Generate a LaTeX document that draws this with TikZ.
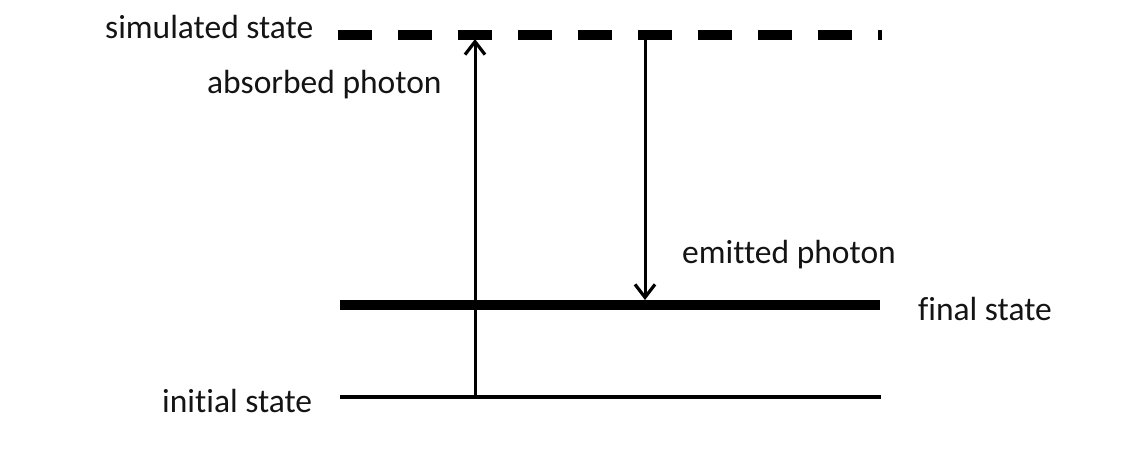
\documentclass[tikz,border=0pt]{standalone}
\usepackage{fontspec}
\setmainfont{Carlito}[Ligatures={NoCommon}]
\usetikzlibrary{arrows.meta}
\tikzset{
  lbl/.style={anchor=base west, inner sep=0pt, font=\fontsize{33.5}{38}\selectfont, text=black!92},
  virtual/.style={line width=9.5pt, dash pattern=on 34pt off 26pt},
  finallvl/.style={line width=10.5pt},
  initlvl/.style={line width=3.5pt},
  photon/.style={line width=3pt, -{Straight Barb[length=13pt,width=20pt,line width=3.2pt]}}
}
\begin{document}
\begin{tikzpicture}[x=1pt,y=-1pt]
\useasboundingbox (0,0) rectangle (1138,448);
\fill[white] (0,0) rectangle (1138,448);
% levels
\coordinate (simL) at (338,35);
\coordinate (simR) at (882,35);
\coordinate (finL) at (340,305);
\coordinate (finR) at (880,305);
\coordinate (iniL) at (340,397);
\coordinate (iniR) at (881,397);
\draw[virtual] (simL) -- (simR);
\draw[finallvl] (finL) -- (finR);
\draw[initlvl] (iniL) -- (iniR);
% photon arrows
\coordinate (absB) at (475,397);
\coordinate (absT) at (475,39);
\coordinate (emiT) at (645,35);
\coordinate (emiB) at (645,300);
\draw[photon] (absB) -- (absT);
\draw[photon] (emiT) -- (emiB);
% labels
\node[lbl] (lsim) at (105,38) {simulated state};
\node[lbl] (labs) at (207,93) {absorbed photon};
\node[lbl] (lemi) at (682,263) {emitted photon};
\node[lbl] (lfin) at (918,320) {final state};
\node[lbl] (lini) at (162,412) {initial state};
\end{tikzpicture}
\end{document}
